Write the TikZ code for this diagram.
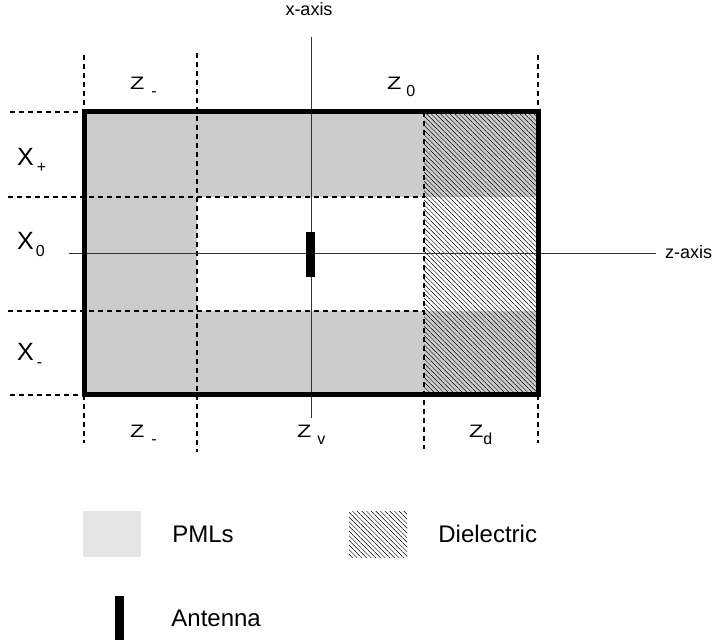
\documentclass[tikz,border=0pt]{standalone}
\usepackage{fontspec}
\setmainfont{Liberation Sans}
\usetikzlibrary{positioning,patterns.meta}

\tikzset{
  gridline/.style={dash pattern=on 5pt off 4pt, line width=1.3pt},
  axisline/.style={line width=0.9pt, black!80},
  hatch/.style={pattern={Lines[angle=-45,distance=3.3pt,line width=0.45pt]}},
  antenna/.style={fill=black, minimum width=9pt, minimum height=45pt, inner sep=0pt},
  legtext/.style={font=\fontsize{24}{28}\selectfont, anchor=west, inner sep=0pt},
  axlbl/.style={font=\fontsize{18}{21}\selectfont, inner sep=0pt},
  zlbl/.style={font=\fontsize{18}{21}\selectfont, anchor=base west, inner sep=0pt},
  xlbl/.style={font=\fontsize{25}{28}\selectfont, anchor=base west, inner sep=0pt},
}
\newcommand{\lowsub}[2][0pt]{\hspace{#1}\raisebox{-7pt}{\fontsize{16}{16}\selectfont #2}}
\newcommand{\wideZ}{\scalebox{1.3}[1]{Z}}

\begin{document}
\begin{tikzpicture}[x=1pt, y=-1pt]

    % constants
    \def\zwl{84}
    \def\zpml{197}
    \def\zdi{424}
    \def\zwr{538}
    \def\xtop{112}
    \def\xup{197}
    \def\xlow{311}
    \def\xbot{395}

    \useasboundingbox (0,0) rectangle (718,644);

    % PML layers, vacuum and dielectric
    \fill [black!20] (\zwl,\xtop) rectangle (\zwr,\xbot);
    \fill [white] (\zpml,\xup) rectangle (\zwr,\xlow);
    \fill [hatch] (\zdi,\xtop) rectangle (\zwr,\xbot);

    % region boundaries
    \draw [gridline] (\zwl,55) -- (\zwl,\xtop);
    \draw [gridline] (\zwr,55) -- (\zwr,\xtop);
    \draw [gridline] (\zpml,53) -- (\zpml,452);
    \draw [gridline] (\zdi,\xtop) -- (\zdi,449);
    \draw [gridline] (\zwl,\xbot) -- (\zwl,443);
    \draw [gridline] (\zwr,\xbot) -- (\zwr,443);
    \draw [gridline] (10,\xtop) -- (\zwl,\xtop);
    \draw [gridline] (8,\xup) -- (\zdi,\xup);
    \draw [gridline] (8,\xlow) -- (\zdi,\xlow);
    \draw [gridline] (10,\xbot) -- (\zwl,\xbot);

    % axes
    \node [axlbl, anchor=base] (xlabel) at (309,16) {x-axis};
    \node [axlbl, anchor=base west] (zlabel) at (665,259) {z-axis};
    \coordinate (xtip) at (311,37);
    \coordinate (xend) at (311,418);
    \coordinate (ztail) at (69,253);
    \coordinate (ztip) at (656,253);
    \draw [axisline] (xtip) -- (xend);
    \draw [axisline] (ztail) -- (ztip);

    % domain border and antenna
    \draw [line width=5pt] (\zwl,\xtop) rectangle (\zwr,\xbot);
    \node [antenna] (ant) at (310.5,254.5) {};

    % region labels
    \node [zlbl] (zmtop) at (130,90) {\wideZ\lowsub[7pt]{-}};
    \node [zlbl] (zotop) at (387,90) {\wideZ\lowsub[5pt]{0}};
    \node [xlbl] (xp) at (17,166) {X\lowsub[3pt]{+}};
    \node [xlbl] (xo) at (17,250) {X\lowsub[2pt]{0}};
    \node [xlbl] (xm) at (17,361) {X\lowsub[3pt]{-}};
    \node [zlbl] (zmbot) at (130,437) {\wideZ\lowsub[7pt]{-}};
    \node [zlbl] (zv) at (297,437) {\wideZ\lowsub[6pt]{v}};
    \node [zlbl] (zd) at (469,437) {\wideZ\lowsub{d}};

    % legend
    \node [fill=black!10, minimum width=58pt, minimum height=46pt, inner sep=0pt] (pmlkey) at (112,534) {};
    \node [legtext, right=31pt of pmlkey] (pmltext) {PMLs};
    \node [hatch, minimum width=58pt, minimum height=46pt, inner sep=0pt] (dikey) at (378,534) {};
    \node [legtext, right=31pt of dikey] (ditext) {Dielectric};
    \node [antenna, minimum width=9pt, minimum height=44pt] (antkey) at (119.5,618) {};
    \node [legtext, right=47pt of antkey] (anttext) {Antenna};

\end{tikzpicture}
\end{document}
